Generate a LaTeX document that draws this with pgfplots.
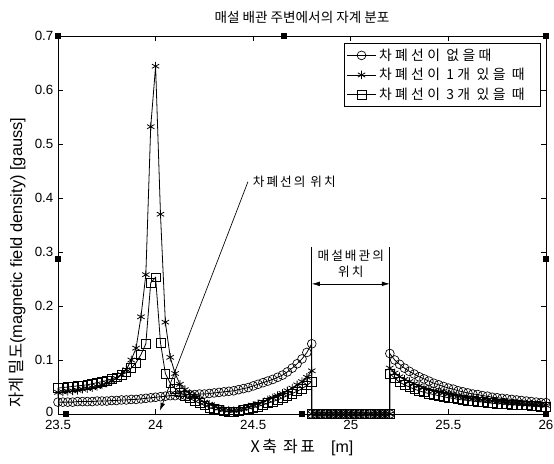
\documentclass[border=0pt]{standalone}
\usepackage{fontspec}
\setmainfont{Liberation Sans}
\newfontfamily\kr{Noto Sans CJK KR}
\newfontfamily\krs[LetterSpace=16]{Noto Sans CJK KR}
\newfontfamily\krl[LetterSpace=24]{Noto Sans CJK KR}
\usepackage{pgfplots}
\pgfplotsset{compat=1.18}
\usepackage{pgfplotstable}
\usetikzlibrary{arrows.meta}

\pgfplotstableread{
x a b c
23.5 0.022 0.040 0.048
23.525 0.022 0.041 0.049
23.55 0.022 0.042 0.050
23.575 0.022 0.043 0.051
23.6 0.023 0.044 0.052
23.625 0.023 0.046 0.053
23.65 0.023 0.047 0.054
23.675 0.023 0.049 0.056
23.7 0.024 0.051 0.058
23.725 0.024 0.054 0.060
23.75 0.024 0.057 0.062
23.775 0.025 0.061 0.065
23.8 0.025 0.066 0.068
23.825 0.026 0.073 0.072
23.85 0.026 0.082 0.077
23.875 0.027 0.100 0.085
23.9 0.027 0.122 0.095
23.925 0.028 0.180 0.110
23.95 0.029 0.258 0.130
23.975 0.030 0.532 0.243
24.0 0.031 0.644 0.253
24.025 0.032 0.370 0.132
24.05 0.033 0.170 0.075
24.075 0.034 0.105 0.057
24.1 0.034 0.075 0.047
24.125 0.035 0.055 0.040
24.15 0.035 0.045 0.034
24.175 0.036 0.038 0.029
24.2 0.036 0.032 0.024
24.225 0.037 0.027 0.020
24.25 0.037 0.022 0.016
24.275 0.038 0.018 0.012
24.3 0.039 0.014 0.009
24.325 0.040 0.011 0.007
24.35 0.041 0.008 0.005
24.375 0.042 0.007 0.004
24.4 0.043 0.006 0.004
24.425 0.045 0.008 0.005
24.45 0.047 0.010 0.007
24.475 0.049 0.013 0.009
24.5 0.052 0.016 0.012
24.525 0.055 0.019 0.014
24.55 0.058 0.022 0.017
24.575 0.061 0.026 0.020
24.6 0.064 0.030 0.023
24.625 0.068 0.034 0.026
24.65 0.072 0.038 0.030
24.675 0.078 0.043 0.034
24.7 0.085 0.048 0.038
24.725 0.093 0.054 0.042
24.75 0.102 0.060 0.047
24.775 0.114 0.068 0.053
24.8 0.130 0.080 0.060
24.8 0 0 0
24.825 0 0 0
24.85 0 0 0
24.875 0 0 0
24.9 0 0 0
24.925 0 0 0
24.95 0 0 0
24.975 0 0 0
25.0 0 0 0
25.025 0 0 0
25.05 0 0 0
25.075 0 0 0
25.1 0 0 0
25.125 0 0 0
25.15 0 0 0
25.175 0 0 0
25.2 0 0 0
25.2 0.112 0.085 0.075
25.225 0.100 0.076 0.066
25.25 0.092 0.069 0.059
25.275 0.085 0.064 0.054
25.3 0.079 0.060 0.050
25.325 0.074 0.056 0.046
25.35 0.069 0.052 0.043
25.375 0.065 0.049 0.040
25.4 0.061 0.046 0.038
25.425 0.057 0.043 0.036
25.45 0.054 0.041 0.034
25.475 0.051 0.039 0.032
25.5 0.048 0.037 0.030
25.525 0.046 0.035 0.029
25.55 0.043 0.033 0.027
25.575 0.041 0.031 0.026
25.6 0.039 0.030 0.025
25.625 0.037 0.028 0.024
25.65 0.036 0.027 0.023
25.675 0.034 0.026 0.022
25.7 0.033 0.025 0.021
25.725 0.031 0.024 0.020
25.75 0.030 0.023 0.019
25.775 0.029 0.022 0.019
25.8 0.028 0.021 0.018
25.825 0.027 0.020 0.017
25.85 0.026 0.020 0.017
25.875 0.025 0.019 0.016
25.9 0.024 0.018 0.016
25.925 0.023 0.018 0.015
25.95 0.022 0.017 0.015
25.975 0.021 0.017 0.014
26.0 0.021 0.016 0.014
}\datatable

\begin{document}
\begin{tikzpicture}
\begin{axis}[
  name=ax,
  scale only axis,
  width=366pt, height=283.5pt,
  xmin=23.5, xmax=26, ymin=0, ymax=0.7,
  xtick={23.5,24,24.5,25,25.5,26},
  ytick={0,0.1,0.2,0.3,0.4,0.5,0.6,0.7},
  xticklabels={23.5,24,24.5,25,25.5,26},
  yticklabels={\raisebox{2.5pt}{0},0.1,0.2,0.3,0.4,0.5,0.6,0.7},
  tick align=inside,
  major tick length=4pt,
  tick style={black, line width=0.5pt},
  axis line style={black, line width=0.6pt},
  tick label style={font=\fontsize{10}{12}\selectfont},
  xticklabel style={yshift=-1.2pt},
  /pgf/number format/assume math mode=true,
  clip=false,
  title={{\kr 매설 배관 주변에서의 자계 분포}},
  title style={font=\fontsize{10.2}{12}\selectfont, yshift=-0.5pt},
  xlabel={{\krs X축 좌표}\hspace{12pt}[m]},
  xlabel style={font=\fontsize{12}{14}\selectfont, yshift=0pt},
  ylabel={{\kr 자계 밀도}(magnetic field density) [gauss]},
  ylabel style={font=\fontsize{12.3}{14}\selectfont, at={(ticklabel cs:0.4)}, anchor=near ticklabel},
  legend style={at={(rel axis cs:0.99,0.981)}, anchor=north east,
    font=\krl\fontsize{10.4}{12}\selectfont, draw=black, line width=0.6pt,
    row sep=0.6pt, inner xsep=2pt, inner ysep=1.8pt},
  legend cell align=left,
  legend image code/.code={\draw[mark repeat=2, mark phase=2] plot coordinates {(0cm,0cm) (0.38cm,0cm) (0.76cm,0cm)};},
  every axis plot/.append style={black, line width=0.6pt},
]
\addplot[mark=o, mark size=3.3pt, mark options={solid, line width=0.5pt}] table[x=x, y=a] {\datatable};
\addlegendentry{차폐선이 없을때}
\addplot[mark=asterisk, mark size=3.2pt, mark options={solid, line width=0.6pt}] table[x=x, y=b] {\datatable};
\addlegendentry{차폐선이 1개 있을 때\hspace*{8pt}}
\addplot[mark=square, mark size=3.3pt, mark options={solid, line width=0.5pt}] table[x=x, y=c] {\datatable};
\addlegendentry{차폐선이 3개 있을 때}

\draw[line width=0.5pt, -{Latex[length=6pt, width=3.5pt]}] (axis cs:24.473,0.43) -- (axis cs:24.022,0.006);
\node[anchor=west, font=\krs\fontsize{9.5}{11}\selectfont, inner sep=1pt] at (axis cs:24.49,0.43) {차폐선의 위치};
\draw[line width=0.6pt] (axis cs:24.8,0) -- (axis cs:24.8,0.309);
\draw[line width=0.6pt] (axis cs:25.2,0) -- (axis cs:25.2,0.309);
\draw[line width=0.5pt, {Latex[length=6pt, width=3.5pt]}-{Latex[length=6pt, width=3.5pt]}] (axis cs:24.8,0.241) -- (axis cs:25.2,0.241);
\node[align=center, font=\krs\fontsize{9.5}{11}\selectfont, inner sep=0pt] at (axis cs:25,0.279) {매설배관의\\[1pt]위치};

\node[fill=black, inner sep=0pt, minimum size=4.5pt] at (rel axis cs:0,1) {};
\node[fill=black, inner sep=0pt, minimum size=4.5pt] at (rel axis cs:0.463,1) {};
\node[fill=black, inner sep=0pt, minimum size=4.5pt] at (rel axis cs:1,1) {};
\node[fill=black, inner sep=0pt, minimum size=4.5pt] at (rel axis cs:0,0.41) {};
\node[fill=black, inner sep=0pt, minimum size=4.5pt] at (rel axis cs:1,0.41) {};
\node[fill=black, inner sep=0pt, minimum size=4.5pt] at (rel axis cs:0.016,0) {};
\node[fill=black, inner sep=0pt, minimum size=4.5pt] at (rel axis cs:0.5,0) {};
\node[fill=black, inner sep=0pt, minimum size=4.5pt] at (rel axis cs:1,0) {};
\end{axis}
\pgfresetboundingbox
\path (ax.south west) ++(-43.5pt,-37.5pt) rectangle ++(415.5pt,348pt);
\end{tikzpicture}
\end{document}
